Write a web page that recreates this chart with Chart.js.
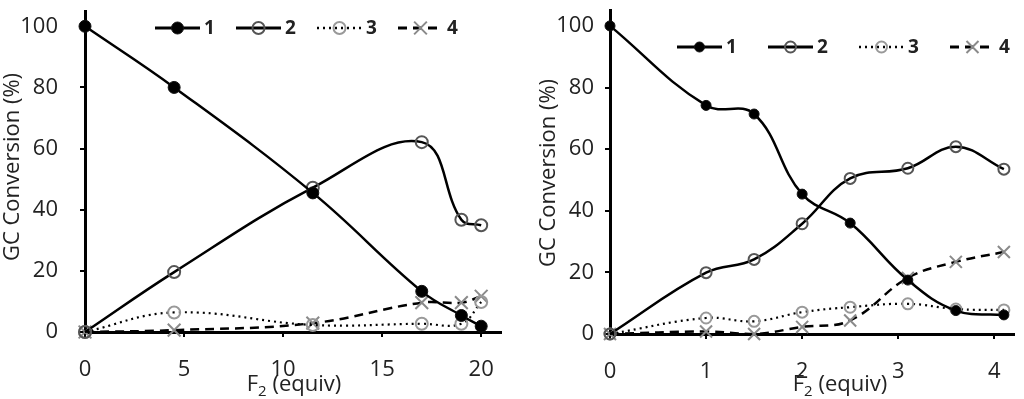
<!DOCTYPE HTML>
<html>

<head>
  <meta charset="utf-8" />
  <script src="https://cdn.jsdelivr.net/npm/chart.js@4.4.1/dist/chart.umd.min.js"></script>
  <style>
    body {
      margin: 0;
      background: #fff;
    }

    .row {
      display: flex;
      width: 1024px;
      height: 399px;
    }

    canvas {
      display: block;
    }
  </style>
</head>

<body>
  <div class="row">
    <canvas id="chart-left" width="512" height="399"></canvas>
    <canvas id="chart-right" width="512" height="399"></canvas>
  </div>
</body>
<script>
  // series names (legend)
  var seriesNames = ['1', '2', '3', '4'];

  // left panel: F2 equiv 0..20
  var leftX = [0, 4.5, 11.5, 17, 19, 20];
  var left1 = [100, 80, 45.5, 13.3, 5.4, 1.9];
  var left2 = [0, 19.6, 47.2, 62.1, 36.7, 34.9];
  var left3 = [0, 6.4, 2.3, 2.7, 2.7, 9.8];
  var left4 = [0, 0.6, 2.9, 9.6, 9.6, 11.7];

  // right panel: F2 equiv 0..4
  var rightX = [0, 1, 1.5, 2, 2.5, 3.1, 3.6, 4.1];
  var right1 = [100, 74.2, 71.4, 45.4, 36, 17.5, 7.6, 6.2];
  var right2 = [0, 19.9, 24.2, 35.8, 50.5, 53.8, 60.8, 53.5];
  var right3 = [0, 5.2, 4.1, 7.1, 8.7, 9.8, 8.1, 7.8];
  var right4 = [0, 0.8, 0, 2.3, 4.4, 18.2, 23.4, 26.6];

  var yTitle = 'GC Conversion (%)';
  var xTitle = ['F', '2', ' (equiv)'];

  var FONT = "'Open Sans', sans-serif";
  var TEXT = '#222';

  // Helper Functions
  function pairs(xs, ys) {
    return xs.map(function (x, i) { return { x: x, y: ys[i] }; });
  }

  function drawMarker(ctx, ds, x, y) {
    var r = ds.pointRadius;
    ctx.save();
    ctx.setLineDash([]);
    ctx.lineWidth = ds.pointBorderWidth;
    ctx.strokeStyle = ds.pointBorderColor;
    ctx.fillStyle = ds.pointBackgroundColor;
    ctx.beginPath();
    if (ds.pointStyle === 'crossRot') {
      var d = r * 0.707;
      ctx.moveTo(x - d, y - d); ctx.lineTo(x + d, y + d);
      ctx.moveTo(x - d, y + d); ctx.lineTo(x + d, y - d);
      ctx.stroke();
    } else {
      ctx.arc(x, y, r, 0, Math.PI * 2);
      ctx.fill();
      ctx.stroke();
    }
    ctx.restore();
  }

  // legend + axis titles drawn by hand (legend sits inside the plot)
  var extras = {
    id: 'extras',
    afterDraw: function (chart) {
      var o = chart.options.plugins.extras;
      var ctx = chart.ctx;
      ctx.save();
      // legend
      chart.data.datasets.forEach(function (ds, i) {
        var x0 = o.legendX + i * o.legendPitch, y = o.legendY;
        ctx.beginPath();
        ctx.setLineDash(ds.borderDash || []);
        ctx.lineWidth = ds.borderWidth + 0.5;
        ctx.strokeStyle = ds.borderColor;
        ctx.moveTo(x0, y);
        ctx.lineTo(x0 + 45, y);
        ctx.stroke();
        ctx.setLineDash([]);
        drawMarker(ctx, ds, x0 + 22.5, y);
        ctx.fillStyle = TEXT;
        ctx.font = 'bold 19px ' + FONT;
        ctx.textAlign = 'left';
        ctx.textBaseline = 'middle';
        ctx.fillText(ds.label, x0 + 49, y + 1);
      });
      // x title with subscript
      ctx.fillStyle = TEXT;
      ctx.textBaseline = 'alphabetic';
      ctx.textAlign = 'left';
      var big = '22px ' + FONT, small = '15px ' + FONT;
      ctx.font = big;
      var w0 = ctx.measureText(xTitle[0]).width;
      var w2 = ctx.measureText(xTitle[2]).width;
      ctx.font = small;
      var w1 = ctx.measureText(xTitle[1]).width;
      var tx = o.xTitleX - (w0 + w1 + w2) / 2;
      ctx.font = big;
      ctx.fillText(xTitle[0], tx, o.xTitleY);
      ctx.font = small;
      ctx.fillText(xTitle[1], tx + w0, o.xTitleY + 5);
      ctx.font = big;
      ctx.fillText(xTitle[2], tx + w0 + w1, o.xTitleY);
      // y title
      ctx.translate(o.yTitleX, o.yTitleY);
      ctx.rotate(-Math.PI / 2);
      ctx.textAlign = 'center';
      ctx.textBaseline = 'middle';
      ctx.font = big;
      ctx.fillText(yTitle, 0, 0);
      ctx.restore();
    }
  };

  function initChart(id, xs, ys, cfg) {
    var styles = [
      { borderWidth: 2.5, borderDash: [], pointStyle: 'circle', pointBackgroundColor: '#000', pointBorderColor: '#111', pointBorderWidth: 1, pointRadius: cfg.dot },
      { borderWidth: 2.5, borderDash: [], pointStyle: 'circle', pointBackgroundColor: 'rgba(0,0,0,0)', pointBorderColor: '#555', pointBorderWidth: 2, pointRadius: cfg.ring },
      { borderWidth: 2.2, borderDash: [2, 4], pointStyle: 'circle', pointBackgroundColor: 'rgba(0,0,0,0)', pointBorderColor: '#999', pointBorderWidth: 2, pointRadius: cfg.ring },
      { borderWidth: 2.5, borderDash: [9, 6], pointStyle: 'crossRot', pointBackgroundColor: 'rgba(0,0,0,0)', pointBorderColor: '#8a8a8a', pointBorderWidth: 2, pointRadius: cfg.ring + 3 }
    ];
    var datasets = ys.map(function (vals, i) {
      var s = styles[i];
      return {
        label: seriesNames[i],
        data: pairs(xs, vals),
        borderColor: '#000',
        borderWidth: s.borderWidth,
        borderDash: s.borderDash,
        pointStyle: s.pointStyle,
        pointRadius: s.pointRadius,
        pointBackgroundColor: s.pointBackgroundColor,
        pointBorderColor: s.pointBorderColor,
        pointBorderWidth: s.pointBorderWidth,
        tension: 0.4,
        clip: false,
        fill: false
      };
    });

    return new Chart(document.getElementById(id), {
      type: 'line',
      data: { datasets: datasets },
      plugins: [extras],
      options: {
        responsive: false,
        animation: false,
        layout: { padding: { top: cfg.padTop, right: cfg.padRight, left: 0, bottom: 0 } },
        scales: {
          x: {
            type: 'linear',
            min: 0,
            max: cfg.xMax,
            grid: { display: true, drawOnChartArea: false, drawTicks: true, tickLength: 5, color: '#000', lineWidth: 2 },
            border: { display: true, color: '#000', width: 3 },
            ticks: { stepSize: cfg.xStep, includeBounds: false, padding: 20, color: TEXT, font: { family: FONT, size: 22 }, maxRotation: 0 },
            afterFit: function (s) { s.height = cfg.xAxisH; s.paddingLeft = 0; s.paddingRight = 0; }
          },
          y: {
            min: 0,
            max: 105,
            grid: { display: true, drawOnChartArea: false, drawTicks: true, tickLength: 5, color: '#000', lineWidth: 2 },
            border: { display: true, color: '#000', width: 3 },
            ticks: { stepSize: 20, includeBounds: false, padding: cfg.yPad, color: TEXT, font: { family: FONT, size: 22 } },
            afterFit: function (s) { s.width = cfg.yAxisW; s.paddingTop = 0; s.paddingBottom = 0; }
          }
        },
        plugins: {
          legend: { display: false },
          tooltip: { enabled: false },
          extras: cfg.extras
        }
      }
    });
  }

  initChart('chart-left', leftX, [left1, left2, left3, left4], {
    xMax: 21, xStep: 5, padTop: 0, padRight: 4, xAxisH: 67, yAxisW: 85, yPad: 22, dot: 6, ring: 6,
    extras: { legendX: 155, legendY: 28, legendPitch: 81, xTitleX: 294, xTitleY: 391, yTitleX: 13, yTitleY: 167 }
  });

  initChart('chart-right', rightX, [right1, right2, right3, right4], {
    xMax: 4.2, xStep: 1, padTop: 8.5, padRight: 2, xAxisH: 65, yAxisW: 98, yPad: 11, dot: 5, ring: 5.5,
    extras: { legendX: 165, legendY: 47, legendPitch: 91, xTitleX: 328, xTitleY: 391, yTitleX: 37, yTitleY: 173 }
  });
</script>

</html>
